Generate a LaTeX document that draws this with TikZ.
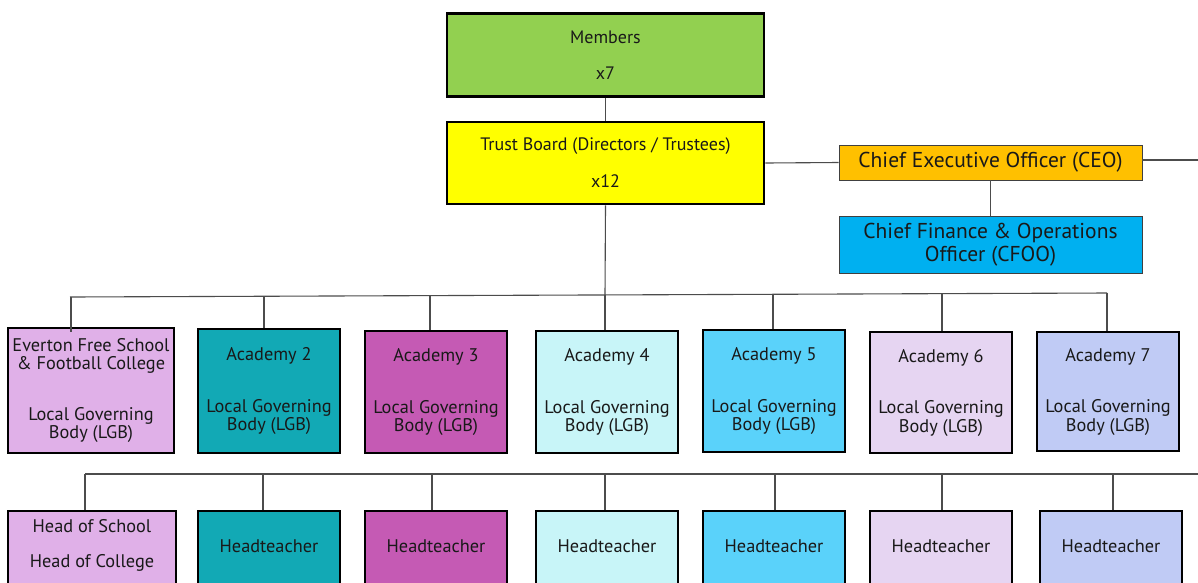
\documentclass[tikz,border=0pt]{standalone}
\usepackage{fontspec}
\setmainfont{PT Sans}
\begin{document}
\begin{tikzpicture}[x=1pt,y=-1pt,
  box/.style={draw=black,line width=2.8pt,align=center,inner sep=0pt,text=black!90},
  thinbox/.style={draw=black!75,line width=0.9pt,align=center,inner sep=0pt,text=black!90},
  conn/.style={draw=black!70,line width=1.1pt},
  fA/.style={font=\fontsize{18}{19}\selectfont},
  fB/.style={font=\fontsize{18.3}{18.5}\selectfont},
  fC/.style={font=\fontsize{21.5}{23}\selectfont}]
\useasboundingbox (0,0) rectangle (1198,582);
\clip (0,0) rectangle (1198,582);
\fill[white] (0,0) rectangle (1198,582);
\definecolor{cmem}{HTML}{92D050}
\definecolor{ctrust}{HTML}{FFFF00}
\definecolor{cceo}{HTML}{FFC000}
\definecolor{ccfoo}{HTML}{00B0F0}
\definecolor{cA}{HTML}{E0B0E8}
\definecolor{cB}{HTML}{12A9B5}
\definecolor{cC}{HTML}{C55AB4}
\definecolor{cD}{HTML}{C8F5F8}
\definecolor{cE}{HTML}{5AD2FA}
\definecolor{cF}{HTML}{E6D5F2}
\definecolor{cG}{HTML}{C0CBF5}

% top
\node[box,fill=cmem,minimum width=317pt,minimum height=83pt,fA] (mem) at (605.5,55) {Members\\[17pt]x7};
\node[box,fill=ctrust,minimum width=317pt,minimum height=82pt,fA] (trust) at (605.5,163) {Trust Board (Directors / Trustees)\\[18pt]x12};
\node[thinbox,fill=cceo,minimum width=303pt,minimum height=35pt,fC] (ceo) at (990.5,162.5) {Chief Executive Officer (CEO)};
\node[thinbox,fill=ccfoo,minimum width=303pt,minimum height=57pt,fC] (cfoo) at (990.5,244.5) {Chief Finance \& Operations\\Officer (CFOO)};
\coordinate (ceoR) at (1198,160);

\draw[conn] (mem) -- (trust);
\draw[conn] (trust.east) -- (ceo.west);
\draw[conn] (ceo.east |- ceoR) -- (ceoR);
\draw[conn] (ceo) -- (cfoo);

% LGB row
\node[box,fill=cA,minimum width=166pt,minimum height=125pt,fB] (l1) at (91,390.5) {Everton Free School\\\& Football College\\[32pt]Local Governing\\Body (LGB)};
\node[box,fill=cB,minimum width=142pt,minimum height=124pt,fB] (l2) at (269,391) {Academy 2\\[33pt]Local Governing\\Body (LGB)};
\node[box,fill=cC,minimum width=142pt,minimum height=122pt,fB] (l3) at (436,392) {Academy 3\\[33pt]Local Governing\\Body (LGB)};
\node[box,fill=cD,minimum width=142pt,minimum height=122pt,fB] (l4) at (607,392) {Academy 4\\[33pt]Local Governing\\Body (LGB)};
\node[box,fill=cE,minimum width=142pt,minimum height=122pt,fB] (l5) at (774,391) {Academy 5\\[33pt]Local Governing\\Body (LGB)};
\node[box,fill=cF,minimum width=142pt,minimum height=121pt,fB] (l6) at (941,392.5) {Academy 6\\[33pt]Local Governing\\Body (LGB)};
\node[box,fill=cG,minimum width=142pt,minimum height=119pt,fB] (l7) at (1108,391.5) {Academy 7\\[33pt]Local Governing\\Body (LGB)};

\coordinate (busL) at (70,297);
\coordinate (busM) at (605,295);
\coordinate (busR) at (1107,293);
\draw[conn] (trust.south) -- (busM);
\draw[conn] (busL) -- (busR);
\draw[conn] (71,297) -- (71,332);
\foreach \n/\x/\y in {l2/264/296.5,l3/430/296,l4/605/295,l5/773/294.5,l6/942/294,l7/1107/293}{
  \coordinate (d\n) at (\x,\y);
  \draw[conn] (d\n) -- (d\n |- \n.north);
}

% head row
\node[box,fill=cA,minimum width=168pt,minimum height=120pt] (h1) at (92,571) {};
\node[box,fill=cB,minimum width=142pt,minimum height=120pt] (h2) at (269,571) {};
\node[box,fill=cC,minimum width=142pt,minimum height=120pt] (h3) at (436,571) {};
\node[box,fill=cD,minimum width=142pt,minimum height=120pt] (h4) at (607,571) {};
\node[box,fill=cE,minimum width=142pt,minimum height=120pt] (h5) at (774,571) {};
\node[box,fill=cF,minimum width=142pt,minimum height=120pt] (h6) at (941,571) {};
\node[box,fill=cG,minimum width=142pt,minimum height=120pt] (h7) at (1111,571) {};

\node[fB,text=black!90,align=center] (t1) at (92,545.5) {Head of School\\[17pt]Head of College};
\foreach \n/\x in {2/269,3/436,4/607,5/774,6/941,7/1111}{
  \node[fB,text=black!90] (t\n) at (\x,546) {Headteacher};
}

\coordinate (bus2L) at (85,474);
\coordinate (bus2R) at (1198,474);
\draw[conn] (bus2L) -- (bus2R);
\foreach \n/\x in {1/85,2/263,3/432,4/605,5/775,6/942,7/1113}{
  \coordinate (e\n) at (\x,474);
  \draw[conn] (e\n) -- (e\n |- h\n.north);
}
\end{tikzpicture}
\end{document}
